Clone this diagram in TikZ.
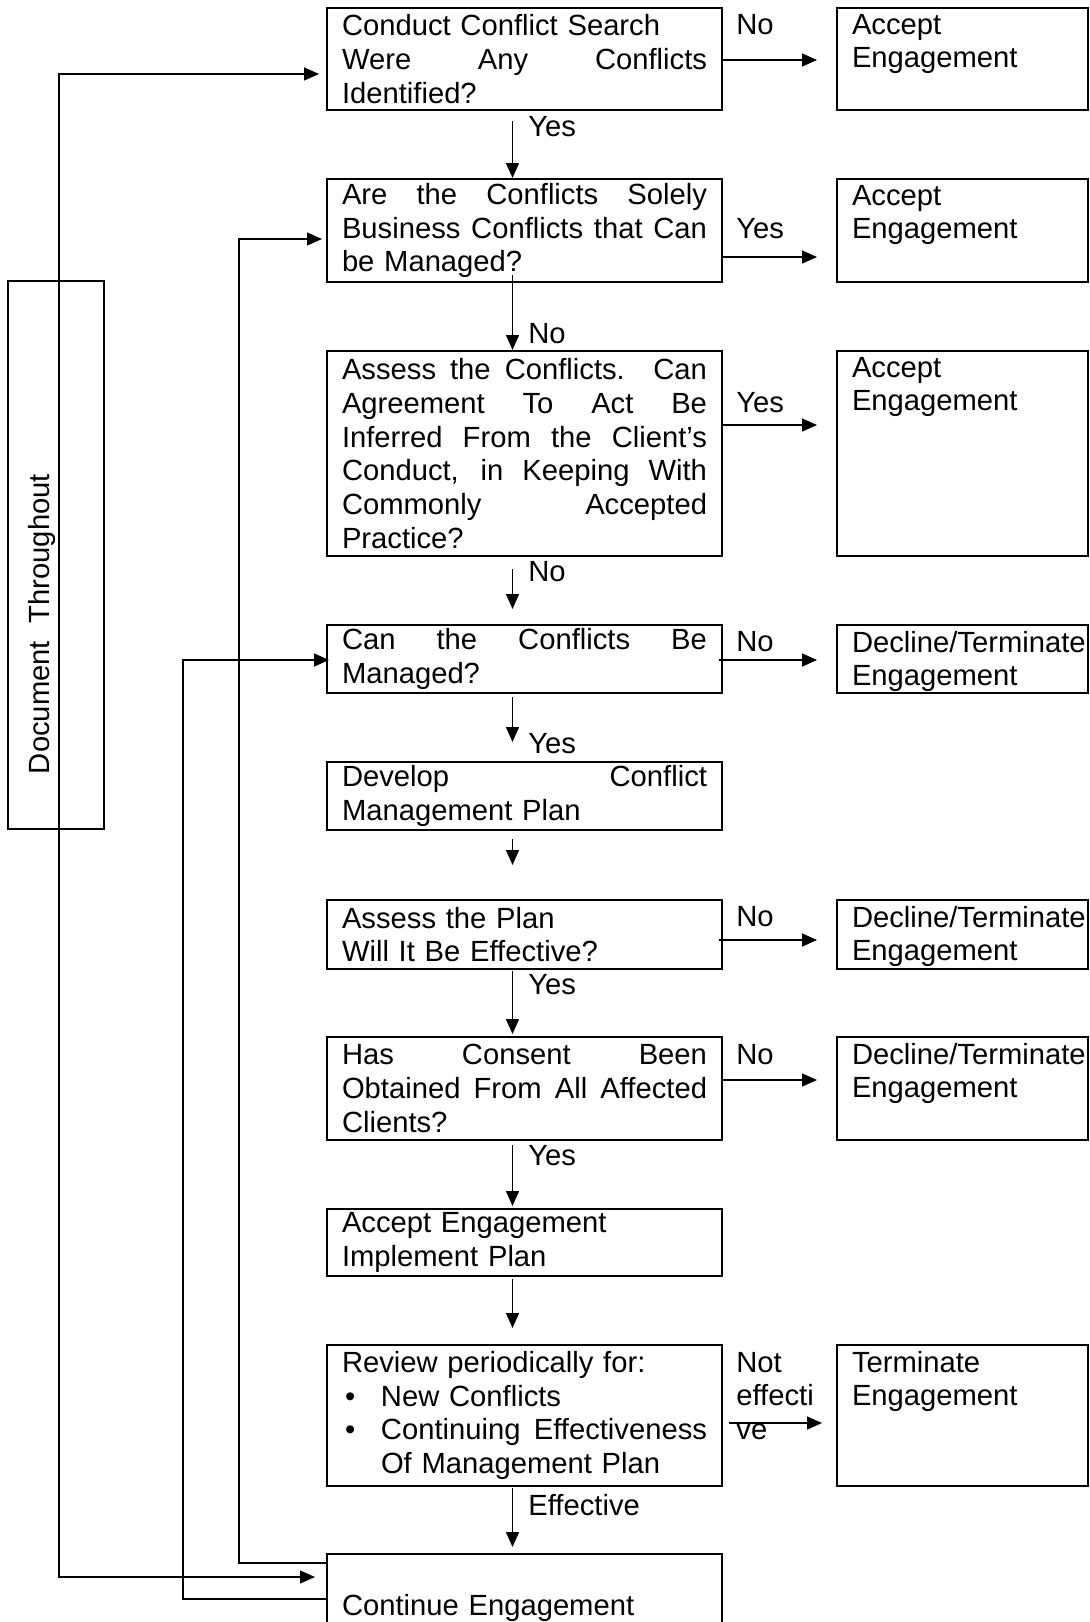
\documentclass[tikz,border=0pt]{standalone}
\usepackage{fontspec}
\setmainfont{Liberation Sans}
\usetikzlibrary{arrows.meta,positioning,calc}

\newlength{\stepw}
\setlength{\stepw}{182.5pt}
\newcommand{\jl}[1]{\makebox[\stepw][s]{\spaceskip=0pt\xspaceskip=0pt #1}}
\newcommand{\outtext}[2]{\parbox[c][#1][t]{110.5pt}{\raggedright #2}}

\begin{document}
\begin{tikzpicture}[
  x=0.5pt, y=-0.5pt,
  every node/.style={font=\fontsize{14.6}{16.9}\selectfont},
  stepbox/.style={draw, line width=1pt, anchor=north west, align=left,
    text width=\stepw, inner xsep=7.5pt, inner ysep=1pt},
  outbox/.style={draw, line width=1pt, anchor=north west, inner xsep=7.5pt, inner ysep=3pt},
  sidebox/.style={draw, line width=1pt, minimum width=48pt, minimum height=274pt},
  lbl/.style={anchor=west, inner sep=0pt, align=left},
  flow/.style={-{Triangle[length=7.5pt,width=6.5pt]}, line width=0.75pt},
  backflow/.style={line width=0.6pt}
]
\useasboundingbox (0,0) rectangle (1090,1622);
\clip (0,0) rectangle (1090,1622);

% - decision column -
\node[stepbox, minimum height=51pt] (search) at (326,7)
  {Conduct Conflict Search\\\jl{Were Any Conflicts}\\Identified?};
\node[stepbox, minimum height=51.5pt] (managed) at (326,178)
  {\jl{Are the Conflicts Solely}\\\jl{Business Conflicts that Can}\\be Managed?};
\node[stepbox, minimum height=102.5pt] (assess) at (326,350)
  {\jl{Assess the Conflicts. Can}\\\jl{Agreement To Act Be}\\\jl{Inferred From the Client’s}\\
   \jl{Conduct, in Keeping With}\\\jl{Commonly Accepted}\\Practice?};
\node[stepbox, minimum height=34pt] (canmanage) at (326,624)
  {\jl{Can the Conflicts Be}\\Managed?};
\node[stepbox, minimum height=34pt] (plan) at (326,761)
  {\jl{Develop Conflict}\\Management Plan};
\node[stepbox, minimum height=34.5pt] (effective) at (326,899)
  {Assess the Plan\\Will It Be Effective?};
\node[stepbox, minimum height=51.5pt] (consent) at (326,1036)
  {\jl{Has Consent Been}\\\jl{Obtained From All Affected}\\Clients?};
\node[stepbox, minimum height=33.5pt] (implement) at (326,1208)
  {Accept Engagement\\Implement Plan};
\node[stepbox, minimum height=70.5pt] (review) at (326,1344)
  {Review periodically for:\\
   \hspace*{1.5pt}\makebox[18pt][l]{\textbullet}New Conflicts\\
   \hspace*{1.5pt}\makebox[18pt][l]{\textbullet}\makebox[163pt][s]{\spaceskip=0pt Continuing Effectiveness}\\
   \hspace*{19.5pt}Of Management Plan};
\node[stepbox, minimum height=55pt] (cont) at (326,1553)
  {\strut\\Continue Engagement\\\strut};

% - outcome column -
\node[outbox] (acc1) at (836,7) {\outtext{45pt}{Accept\\Engagement}};
\node[outbox] (acc2) at (836,178) {\outtext{45.5pt}{Accept\\Engagement}};
\node[outbox] (acc3) at (836,350) {\outtext{96.5pt}{Accept\\Engagement}};
\node[outbox] (decl4) at (836,624) {\outtext{28pt}{\mbox{Decline/Terminate}\\Engagement}};
\node[outbox] (decl6) at (836,899) {\outtext{28.5pt}{\mbox{Decline/Terminate}\\Engagement}};
\node[outbox] (decl7) at (836,1036) {\outtext{45.5pt}{\mbox{Decline/Terminate}\\Engagement}};
\node[outbox] (term9) at (836,1344) {\outtext{64.5pt}{Terminate\\Engagement}};

% - side note -
\node[sidebox] (docbox) at (56,555) {};
\node[rotate=90] (doctext) at (42,624) {\makebox[150pt][s]{Document Throughout}};

% - labels -
\node[lbl] (no1) at (736,25) {No};
\node[lbl] (yes2) at (736,229) {Yes};
\node[lbl] (yes3) at (736,403) {Yes};
\node[lbl] (no4) at (736,642) {No};
\node[lbl] (no6) at (736,917) {No};
\node[lbl] (no7) at (736,1055) {No};
\node[lbl] (noteff) at (736,1396) {Not\\effecti\\ve};
\node[lbl] (yesa) at (528,127) {Yes};
\node[lbl] (noa) at (528,334) {No};
\node[lbl] (nob) at (528,572) {No};
\node[lbl] (yesb) at (528,744) {Yes};
\node[lbl] (yesc) at (528,985) {Yes};
\node[lbl] (yesd) at (528,1156) {Yes};
\node[lbl] (effl) at (528,1505) {Effective};

% - down the column -
\draw[flow] ($(search.south)+(-12,10)$) -- ($(managed.north)+(-12,0)$);
\draw[flow] ($(managed.south)+(-12,-8)$) -- ($(assess.north)+(-12,0)$);
\draw[flow] ($(assess.south)+(-12,12)$) -- ($(canmanage.north)+(-12,-15)$);
\draw[flow] ($(canmanage.south)+(-12,3)$) -- ($(plan.north)+(-12,-19)$);
\draw[flow] ($(plan.south)+(-12,8)$) -- ($(effective.north)+(-12,-34)$);
\draw[flow] ($(effective.south)+(-12,1)$) -- ($(consent.north)+(-12,-2)$);
\draw[flow] ($(consent.south)+(-12,4)$) -- ($(implement.north)+(-12,-2)$);
\draw[flow] ($(implement.south)+(-12,2)$) -- ($(review.north)+(-12,-16)$);
\draw[flow] ($(review.south)+(-12,1)$) -- ($(cont.north)+(-12,-6)$);

% - out to the right -
\draw[flow] ($(search.east)+(0,1)$) -- ($(search.east -| acc1.west)+(-19,1)$);
\draw[flow] ($(managed.east)+(0,26.5)$) -- ($(managed.east -| acc2.west)+(-19,26.5)$);
\draw[flow] ($(assess.east)+(0,-28.5)$) -- ($(assess.east -| acc3.west)+(-19,-28.5)$);
\draw[flow] ($(canmanage.east)+(-4,1)$) -- ($(canmanage.east -| decl4.west)+(-19,1)$);
\draw[flow] ($(effective.east)+(-4,5.5)$) -- ($(effective.east -| decl6.west)+(-19,5.5)$);
\draw[flow] ($(consent.east)+(0,-8.5)$) -- ($(consent.east -| decl7.west)+(-19,-8.5)$);
\draw[flow] ($(review.east)+(6,7.5)$) -- ($(review.east -| term9.west)+(-14,7.5)$);

% - loops back from Continue Engagement -
\coordinate (railA) at (59,0);
\coordinate (railB) at (239,0);
\coordinate (railC) at (183,0);
\coordinate (inA) at ($(cont.west)+(-11,-32)$);
\coordinate (outA) at ($(search.west)+(-7,15)$);
\coordinate (inB) at ($(cont.west)+(0,-46)$);
\coordinate (outB) at ($(managed.west)+(-4,8.5)$);
\coordinate (inC) at ($(cont.west)+(0,-10)$);
\coordinate (outC) at ($(canmanage.west)+(3,1)$);
\draw[backflow, {Triangle[length=7.5pt,width=6.5pt]}-{Triangle[length=7.5pt,width=6.5pt]}]
  (inA) -- (inA -| railA) -- (outA -| railA) -- (outA);
\draw[backflow, -{Triangle[length=7.5pt,width=6.5pt]}]
  (inB) -- (inB -| railB) -- (outB -| railB) -- (outB);
\draw[backflow, -{Triangle[length=7.5pt,width=6.5pt]}]
  (inC) -- (inC -| railC) -- (outC -| railC) -- (outC);

\end{tikzpicture}
\end{document}
